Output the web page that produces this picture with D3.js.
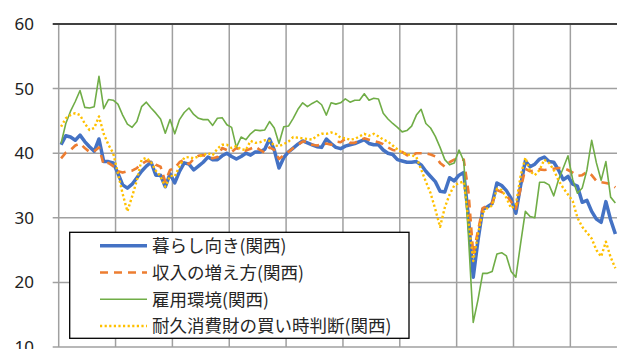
<!DOCTYPE html>
<html><head><meta charset="utf-8">
<script src="https://cdn.jsdelivr.net/npm/d3@7"></script>
<style>
html,body{margin:0;padding:0;background:#fff;}
svg{display:block;}
</style></head>
<body>
<svg id="chart" width="617" height="349"></svg>
<script>
// ---- data ----
const years = [2013,2014,2015,2016,2017,2018,2019,2020,2021,2022];
const months = years.flatMap(y => d3.range(1,13).map(m => `${y}-${String(m).padStart(2,'0')}`));
const yTicks = [10,20,30,40,50,60];
const seriesNames = ["暮らし向き(関西)","収入の増え方(関西)","雇用環境(関西)","耐久消費財の買い時判断(関西)"];

const kurashi = [41.3,42.7,42.5,42.0,42.8,41.8,41.0,40.3,42.2,38.7,38.7,38.5,
36.9,35.1,34.6,35.2,36.2,37.2,38.0,38.6,36.6,36.6,34.8,36.8,
35.4,37.2,38.5,38.3,37.4,38.0,38.6,39.4,39.0,39.0,39.6,40.0,
39.5,39.1,39.5,40.0,39.7,40.2,40.2,40.6,42.2,40.5,37.7,39.3,
40.2,40.8,41.4,41.9,41.6,41.3,41.0,40.9,42.2,41.5,40.9,40.7,
41.1,41.3,41.5,41.8,42.1,41.5,41.3,41.3,40.5,40.0,39.8,39.0,
38.8,38.6,38.6,38.7,38.2,37.2,36.4,35.6,34.1,34.0,36.2,35.7,
36.6,37.0,30.0,20.8,26.5,31.3,31.7,32.2,35.4,35.0,34.2,33.0,
30.7,35.0,38.8,37.9,38.3,39.1,39.4,38.7,38.6,37.4,35.9,36.4,
35.2,34.9,32.4,32.7,31.0,29.8,29.3,32.5,29.7,27.5];

const shunyu = [39.2,40.1,40.5,41.2,41.5,40.8,40.2,40.3,40.9,38.2,38.5,38.0,
37.2,37.0,37.2,37.3,37.7,38.3,38.8,38.7,38.2,37.9,35.6,37.4,
37.7,38.6,39.0,38.3,39.1,39.6,39.7,39.5,39.2,39.4,40.8,40.5,
40.2,40.8,40.5,40.4,40.7,41.0,40.5,40.1,40.9,40.5,39.1,39.7,
40.2,40.8,41.3,41.8,41.8,41.3,41.2,41.3,41.5,41.3,41.8,41.7,
42.2,41.6,41.6,42.0,42.3,42.1,41.9,41.7,41.4,40.9,40.5,40.4,
40.2,39.7,39.6,40.0,40.0,40.0,39.8,39.5,38.5,37.9,38.6,39.0,
39.0,39.0,34.0,24.3,28.0,31.5,31.9,32.3,34.3,34.0,33.5,32.5,
31.4,34.5,37.6,37.2,37.3,37.5,37.4,37.5,37.6,37.7,37.7,37.4,
37.0,36.5,36.6,37.1,36.6,35.7,35.5,35.4,35.2,34.7];

const koyo = [41.5,44.6,46.5,48.0,49.7,47.1,47.0,47.2,51.9,46.9,48.3,48.2,
47.6,45.9,44.5,44.0,44.9,47.2,47.9,47.0,46.2,45.3,43.1,45.2,
43.0,45.2,46.3,47.0,46.0,45.4,45.2,45.2,44.3,45.4,45.5,44.4,
44.0,40.9,42.5,42.1,43.0,43.6,43.5,43.6,44.9,43.9,41.5,44.1,
44.2,45.4,46.8,47.8,47.2,47.7,48.1,47.5,45.9,47.8,47.6,47.8,
48.4,47.9,48.2,48.2,49.2,48.2,48.5,48.4,46.2,45.3,44.6,44.0,
43.3,43.5,44.2,45.9,46.8,44.6,43.9,42.6,40.9,39.0,38.2,38.5,
40.5,38.8,27.0,13.8,17.3,21.4,21.4,21.7,24.4,24.6,24.1,21.7,
20.8,26.0,31.0,30.2,30.0,35.5,35.5,35.1,33.4,35.9,37.7,39.6,
35.9,33.8,34.6,37.4,42.0,38.5,35.8,38.7,33.2,32.3];

const taikyu = [44.1,45.4,45.9,46.2,45.9,44.6,43.6,43.9,45.7,43.0,41.3,40.0,
36.9,33.7,31.0,33.3,35.8,39.0,39.3,38.6,37.3,36.4,34.8,36.5,
36.4,38.0,39.3,39.4,39.2,39.5,39.7,40.0,39.7,40.7,41.3,41.3,
40.8,41.1,40.6,40.5,41.9,41.6,41.7,42.0,41.9,41.2,41.1,41.4,
41.8,42.5,42.4,42.3,42.2,42.1,42.7,43.0,43.0,43.2,43.0,42.4,
42.3,42.1,42.2,42.6,43.0,42.7,43.0,42.6,42.1,41.8,41.2,40.6,
40.1,39.8,39.7,39.4,37.5,35.6,33.8,31.3,28.6,31.6,33.6,35.0,
35.4,35.6,29.5,23.3,27.5,30.8,31.5,31.9,34.5,34.3,33.1,31.5,
32.0,36.5,39.3,37.2,36.6,37.4,39.0,38.5,37.4,35.8,34.6,33.6,
32.6,30.0,28.6,27.7,26.8,25.0,24.0,26.3,23.9,22.2];

// ---- chart ----
const W = 617, H = 349;
const svg = d3.select("#chart");
const x = d3.scaleBand().domain(months).range([58.7, 627.2]).padding(0);
const y = d3.scaleLinear().domain([10, 60]).range([347, 24]);
const cx = i => x(months[i]) + x.bandwidth() / 2;

const grid = svg.append("g");
// horizontal gridlines (extend left as tick marks)
grid.selectAll("line.h").data(yTicks).join("line")
  .attr("x1", 52.7).attr("x2", W + 20)
  .attr("y1", d => y(d)).attr("y2", d => y(d))
  .attr("stroke", d => d === 60 ? "#000" : "#a0a0a0")
  .attr("stroke-width", d => d === 60 ? 1.6 : 1.5);
// vertical gridlines at each January
const jan = months.filter(m => m.endsWith("-01"));
grid.selectAll("line.v").data(jan).join("line")
  .attr("x1", d => x(d)).attr("x2", d => x(d))
  .attr("y1", y(60) + 1).attr("y2", y(10))
  .attr("stroke", "#a0a0a0").attr("stroke-width", 1.5);

// y axis labels
const yAxis = d3.axisLeft(y).tickValues(yTicks).tickSize(0).tickPadding(24.7);
const ga = svg.append("g").attr("transform", "translate(58.7,0)").call(yAxis);
ga.select(".domain").remove();
ga.selectAll("text").attr("font-family", "'Noto Sans', 'DejaVu Sans', sans-serif")
  .attr("font-size", 17).attr("fill", "#222");

const line = d3.line().x((d, i) => cx(i)).y(d => y(d));
const styles = [
  {data: kurashi, color: "#4472C4", w: 3.5, dash: null},
  {data: shunyu, color: "#ED7D31", w: 2.6, dash: "8,6"},
  {data: koyo, color: "#70AD47", w: 1.6, dash: null},
  {data: taikyu, color: "#FFC000", w: 2.4, dash: "2.2,2.4"}
];
styles.forEach(s => {
  svg.append("path").datum(s.data)
    .attr("d", line)
    .attr("fill", "none")
    .attr("stroke", s.color)
    .attr("stroke-width", s.w)
    .attr("stroke-linejoin", "round")
    .attr("stroke-dasharray", s.dash);
});

// legend
const lg = svg.append("g");
lg.append("rect").attr("x", 69.7).attr("y", 232.3).attr("width", 339.3).attr("height", 106)
  .attr("fill", "#fff").attr("stroke", "#000").attr("stroke-width", 1.3);
const rowY = d3.scaleLinear().domain([0, 3]).range([245.7, 326]);
styles.forEach((s, i) => {
  lg.append("line").attr("x1", 100).attr("x2", 147)
    .attr("y1", rowY(i)).attr("y2", rowY(i))
    .attr("stroke", s.color).attr("stroke-width", s.w)
    .attr("stroke-dasharray", s.dash);
  lg.append("text").attr("x", 152).attr("y", rowY(i))
    .attr("dy", "0.36em")
    .attr("font-family", "'Noto Sans CJK JP', sans-serif")
    .attr("font-size", 17.5).attr("fill", "#262626")
    .text(seriesNames[i]);
});
</script>
</body></html>
